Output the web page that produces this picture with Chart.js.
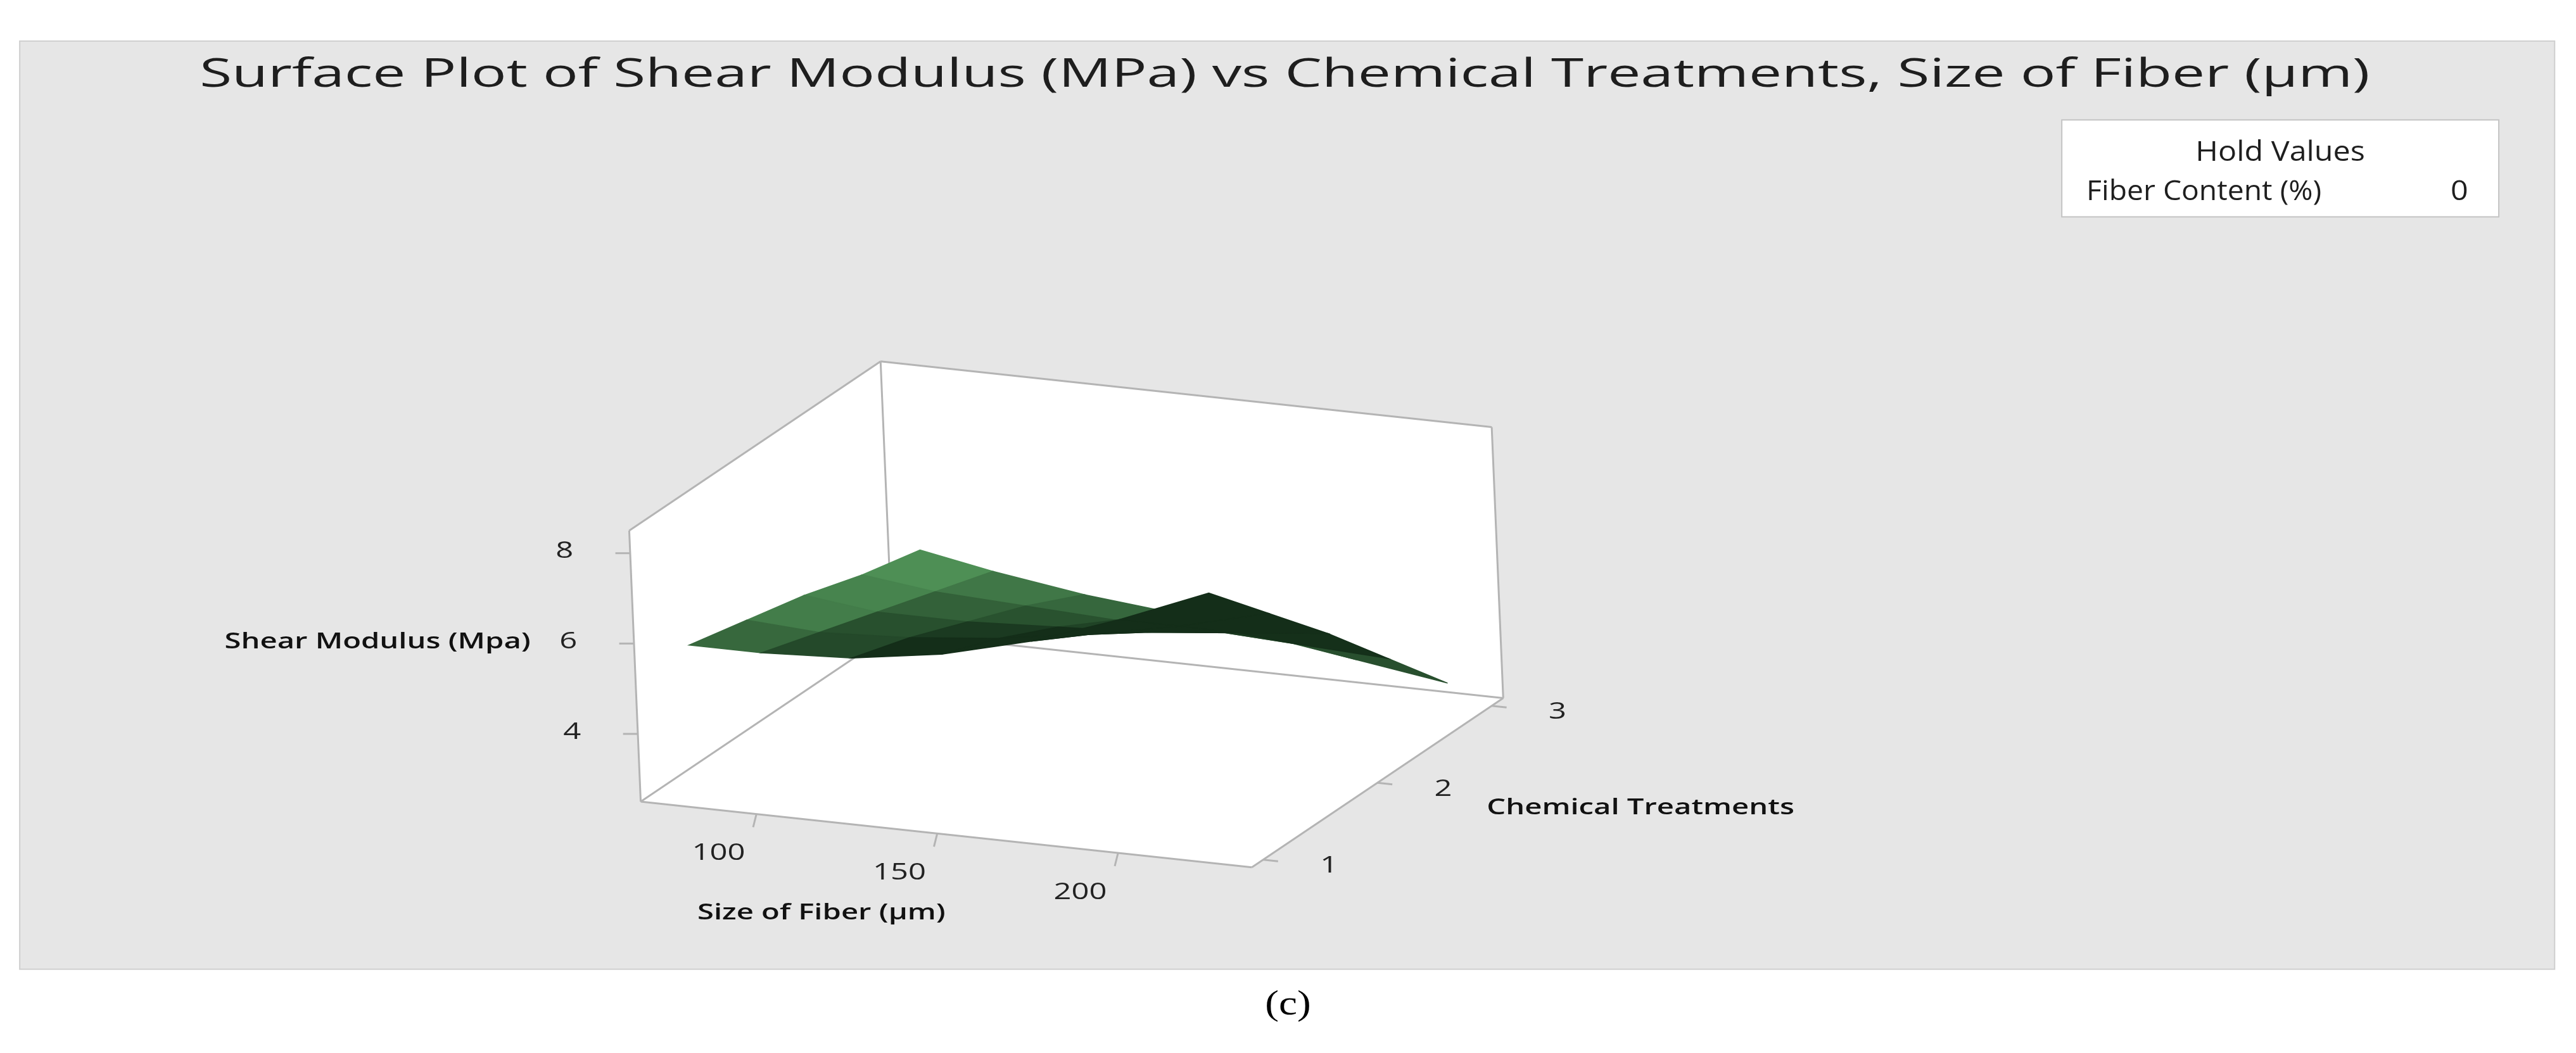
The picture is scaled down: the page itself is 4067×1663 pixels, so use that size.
<!DOCTYPE html>
<html><head><meta charset="utf-8">
<script src="https://cdn.jsdelivr.net/npm/chart.js@4.4.0/dist/chart.umd.min.js"></script>
<style>html,body{margin:0;padding:0;background:#fff}#w{width:4067px;height:1663px}</style>
</head><body><div id="w"><canvas id="c"></canvas></div>
<script>
// ---- data ----
const sizes = [80, 100, 125, 150, 175, 200, 225];          // Size of Fiber (µm)
const treatments = [1, 1.5, 2, 2.5, 3];                    // Chemical Treatments
const modulus = [                                           // Shear Modulus (MPa), rows = treatments
  [5.9, 5.9, 6.0, 6.3, 6.8, 7.5, 8.3],
  [5.6, 5.5, 5.6, 5.8, 6.1, 6.5, 7.0],
  [5.3, 5.1, 5.1, 5.2, 5.3, 5.5, 5.7],
  [4.9, 4.7, 4.6, 4.5, 4.5, 4.4, 4.3],
  [4.6, 4.3, 4.0, 3.8, 3.5, 3.2, 2.9]
];
const sizeTicks = [100, 150, 200];
const treatTicks = [1, 2, 3];
const zTicks = [4, 6, 8];
const sRange = [68, 237], tRange = [0.9, 3.1], zRange = [2.5, 8.5];

// ---- projection (reference units 1568 x 641) ----
const W = 1568, H = 641;
const O = [390, 488];
const U = [372 / 169, 40 / 169], V = [153 / 2.2, -103 / 2.2], Z = [-7 / 6, -165 / 6];
function proj(s, t, z) {
  const ds = s - sRange[0], dt = t - tRange[0], dz = z - zRange[0];
  return { x: O[0] + ds * U[0] + dt * V[0] + dz * Z[0], y: O[1] + ds * U[1] + dt * V[1] + dz * Z[1] };
}
const s0 = sRange[0], s1 = sRange[1], t0 = tRange[0], t1 = tRange[1], z0 = zRange[0], z1 = zRange[1];
const boxEdges = [
  [[s0,t0,z0],[s1,t0,z0]], [[s1,t0,z0],[s1,t1,z0]], [[s0,t0,z0],[s0,t1,z0]], [[s0,t1,z0],[s1,t1,z0]],
  [[s0,t0,z0],[s0,t0,z1]], [[s0,t1,z0],[s0,t1,z1]], [[s1,t1,z0],[s1,t1,z1]],
  [[s0,t0,z1],[s0,t1,z1]], [[s0,t1,z1],[s1,t1,z1]]
];
const datasets = boxEdges.map(e => ({
  type: 'line', data: e.map(p => proj(...p)), borderColor: '#b4b4b4', borderWidth: 3,
  pointRadius: 0, fill: false, order: 5
}));

const bgPlugin = {
  id: 'bg',
  beforeDraw(ch) {
    const c = ch.ctx, sx = ch.scales.x, sy = ch.scales.y;
    const X = v => sx.getPixelForValue(v), Y = v => sy.getPixelForValue(v);
    c.save();
    c.fillStyle = '#fff'; c.fillRect(0, 0, ch.width, ch.height);
    c.fillStyle = '#e6e6e6'; c.fillRect(X(12), Y(25), X(1555) - X(12), Y(590) - Y(25));
    c.strokeStyle = '#cfcfcf'; c.lineWidth = 2; c.strokeRect(X(12), Y(25), X(1555) - X(12), Y(590) - Y(25));
    const poly = pts => { c.beginPath(); pts.forEach((p, i) => { const q = proj(...p); i ? c.lineTo(X(q.x), Y(q.y)) : c.moveTo(X(q.x), Y(q.y)); }); c.closePath(); c.fill(); };
    c.fillStyle = '#fff';
    poly([[s0,t0,z0],[s1,t0,z0],[s1,t1,z0],[s0,t1,z0]]);
    poly([[s0,t0,z0],[s0,t1,z0],[s0,t1,z1],[s0,t0,z1]]);
    poly([[s0,t1,z0],[s1,t1,z0],[s1,t1,z1],[s0,t1,z1]]);
    c.restore();
  },
  afterDatasetsDraw(ch) {
    const c = ch.ctx, sx = ch.scales.x, sy = ch.scales.y, k = ch.width / W;
    const X = v => sx.getPixelForValue(v), Y = v => sy.getPixelForValue(v);
    // stretched text helper (reference text is horizontally stretched)
    const txt = (s, x, y, font, align, stretch, color) => {
      c.save(); c.font = font; c.fillStyle = color || '#1e1e1e'; c.textBaseline = 'middle';
      const w = c.measureText(s).width * stretch;
      let left = align === 'center' ? X(x) - w / 2 : align === 'right' ? X(x) - w : X(x);
      c.translate(left, Y(y)); c.scale(stretch, 1); c.textAlign = 'left'; c.fillText(s, 0, 0); c.restore();
    };
    c.save();
    const quads = [];
    const ns = v => (v - s0) / (s1 - s0), nt = v => (v - t0) / (t1 - t0), nz = v => (v - z0) / (z1 - z0);
    for (let i = 0; i < treatments.length - 1; i++) for (let j = 0; j < sizes.length - 1; j++) {
      const p = [[sizes[j], treatments[i], modulus[i][j]], [sizes[j + 1], treatments[i], modulus[i][j + 1]],
                 [sizes[j + 1], treatments[i + 1], modulus[i + 1][j + 1]], [sizes[j], treatments[i + 1], modulus[i + 1][j]]];
      const fs = (nz(p[1][2] + p[2][2]) - nz(p[0][2] + p[3][2])) / 2 / (ns(p[1][0]) - ns(p[0][0]));
      const ft = (nz(p[3][2] + p[2][2]) - nz(p[0][2] + p[1][2])) / 2 / (nt(p[3][1]) - nt(p[0][1]));
      let n = [-fs, -ft, 1]; const L = Math.hypot(...n); n = n.map(v => v / L);
      const Ld = [0.8, -0.25, 0.35]; const LL = Math.hypot(...Ld);
      let b = (n[0] * Ld[0] + n[1] * Ld[1] + n[2] * Ld[2]) / LL;
      b = Math.max(0, Math.min(1, (b - 0.05) / 0.7));
      const depth = nt((treatments[i] + treatments[i + 1]) / 2) - ns((sizes[j] + sizes[j + 1]) / 2);
      quads.push({ p, b, depth });
    }
    quads.sort((a, b) => b.depth - a.depth);
    quads.forEach(q => {
      const dark = [20, 46, 25], light = [98, 176, 106];
      const col = dark.map((d, m) => Math.round(d + (light[m] - d) * q.b));
      c.fillStyle = c.strokeStyle = `rgb(${col.join(',')})`; c.lineWidth = 1.5;
      c.beginPath();
      q.p.forEach((pt, m) => { const r = proj(...pt); m ? c.lineTo(X(r.x), Y(r.y)) : c.moveTo(X(r.x), Y(r.y)); });
      c.closePath(); c.fill(); c.stroke();
    });
    // ticks
    c.strokeStyle = '#b4b4b4'; c.lineWidth = 3;
    const tf = `${14 * k}px "Open Sans"`, st = 1.35;
    zTicks.forEach(z => { const p = proj(s0, t0, z); c.beginPath(); c.moveTo(X(p.x), Y(p.y)); c.lineTo(X(p.x - 9), Y(p.y)); c.stroke(); txt(String(z), p.x - 40, p.y - 1, tf, 'center', st, '#222'); });
    sizeTicks.forEach(s => { const p = proj(s, t0, z0); c.beginPath(); c.moveTo(X(p.x), Y(p.y)); c.lineTo(X(p.x - 2), Y(p.y + 8)); c.stroke(); txt(String(s), p.x - 23, p.y + 24, tf, 'center', st, '#222'); });
    treatTicks.forEach(t => { const p = proj(s1, t, z0); c.beginPath(); c.moveTo(X(p.x), Y(p.y)); c.lineTo(X(p.x + 9), Y(p.y + 1)); c.stroke(); txt(String(t), p.x + 40, p.y + 4, tf, 'center', st, '#222'); });
    const lf = `600 ${13 * k}px "Open Sans"`;
    txt('Shear Modulus (Mpa)', 323, 391, lf, 'right', 1.4, '#111');
    txt('Size of Fiber (µm)', 500, 556, lf, 'center', 1.4, '#111');
    txt('Chemical Treatments', 905, 492, lf, 'left', 1.4, '#111');
    // title fitted to reference width
    const title = 'Surface Plot of Shear Modulus (MPa) vs Chemical Treatments, Size of Fiber (µm)';
    const tfont = `${24 * k}px "Open Sans"`;
    c.font = tfont;
    const tst = (X(1443) - X(122)) / c.measureText(title).width;
    txt(title, 782, 46, tfont, 'center', tst, '#1e1e1e');
    // legend box
    c.fillStyle = '#fff'; c.fillRect(X(1255), Y(73), X(1521) - X(1255), Y(132) - Y(73));
    c.strokeStyle = '#c4c4c4'; c.lineWidth = 2; c.strokeRect(X(1255), Y(73), X(1521) - X(1255), Y(132) - Y(73));
    const gf = `${17 * k}px "Open Sans"`;
    txt('Hold Values', 1388, 93, gf, 'center', 1.1);
    txt('Fiber Content (%)', 1270, 117, gf, 'left', 1.05);
    txt('0', 1497, 117, gf, 'center', 1.1);
    txt('(c)', 784, 612, `${21 * k}px "Liberation Serif"`, 'center', 1.2, '#000');
    c.restore();
  }
};

new Chart(document.getElementById('c'), {
  type: 'scatter',
  data: { datasets },
  options: {
    responsive: true, maintainAspectRatio: false, animation: false,
    layout: { padding: 0 },
    plugins: { legend: { display: false }, tooltip: { enabled: false } },
    scales: {
      x: { type: 'linear', min: 0, max: W, display: false },
      y: { type: 'linear', min: 0, max: H, reverse: true, display: false }
    }
  },
  plugins: [bgPlugin]
});
</script></body></html>
